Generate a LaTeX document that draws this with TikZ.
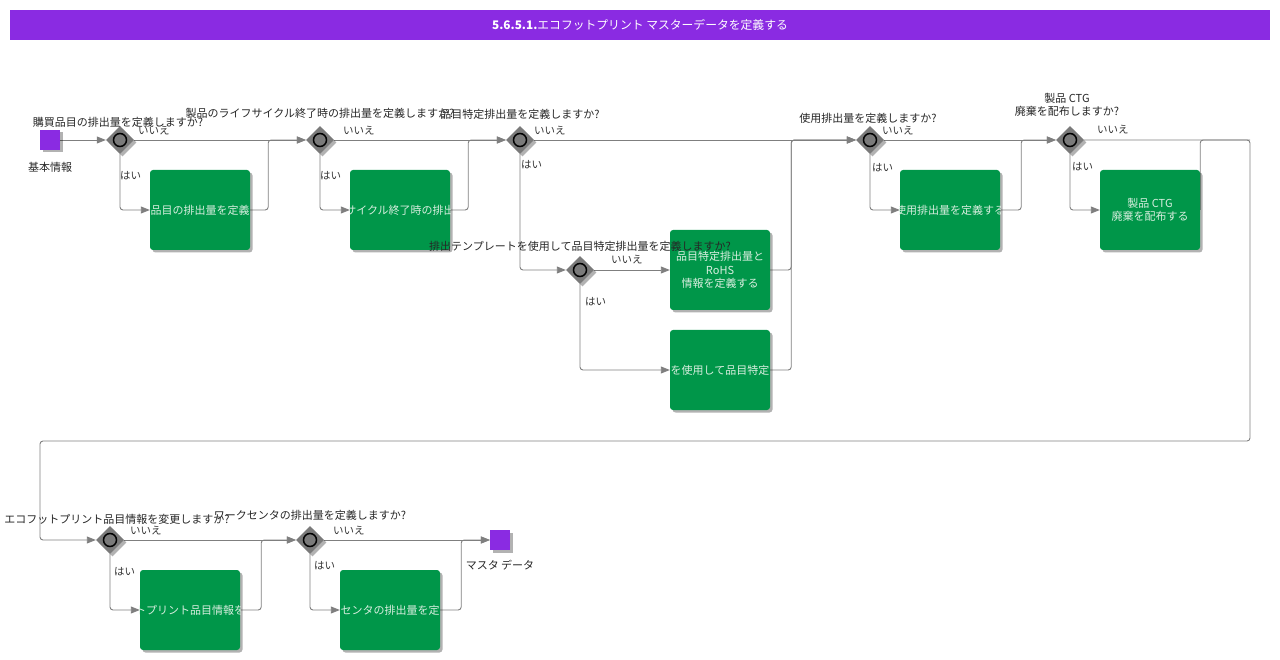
\documentclass[tikz,border=0pt]{standalone}
\usepackage{fontspec}
\setmainfont{Noto Sans CJK JP}
\usetikzlibrary{shapes.geometric,shadows,arrows.meta,backgrounds}
\definecolor{vio}{HTML}{8A2BE2}
\definecolor{grn}{HTML}{009649}
\definecolor{ln}{HTML}{7F7F7F}
\definecolor{gw}{HTML}{7A7A7A}
\definecolor{boxtxt}{HTML}{D8EEDF}
\tikzset{
  flow/.style={draw=ln, line width=0.9pt, rounded corners=3pt, -{Triangle[length=9pt,width=7pt]}},
  plain/.style={draw=ln, line width=0.9pt, rounded corners=3pt},
  shd/.style={drop shadow={shadow xshift=2.5pt, shadow yshift=-2.5pt, opacity=0.3, fill=black}},
  gate/.style={diamond, fill=gw, minimum width=28pt, minimum height=28pt, inner sep=0pt, shd},
  ring/.style={draw=black, line width=1.5pt, fill=gw},
  task/.style={rectangle, rounded corners=3pt, fill=grn, minimum width=100pt, minimum height=80pt,
    inner sep=0pt, shd},
  tasktext/.style={inner sep=0pt, text=boxtxt, font=\fontsize{11}{13.5}\selectfont, align=center},
  term/.style={rectangle, fill=vio, minimum size=20pt, inner sep=0pt, shd},
  lbl/.style={font=\fontsize{11}{13}\selectfont, text=black!85, inner sep=0pt, align=center},
  ans/.style={font=\fontsize{10.5}{12}\selectfont, text=black!80, inner sep=0pt, anchor=west},
}
\newcommand{\tasklabel}[3]{%
  \begin{scope}
    \clip (#1.south west) rectangle (#1.north east);
    \node[tasktext] (#2) at (#1) {#3};
  \end{scope}}
\begin{document}
\begin{tikzpicture}[x=1pt,y=-1pt]
\useasboundingbox (0,0) rectangle (1280,660);
% title
\node[fill=vio, minimum width=1260pt, minimum height=30pt, inner sep=0pt, text=white,
  font=\fontsize{11.8}{14}\selectfont] (title) at (640,25) {\bfseries 5.6.5.1.\mdseries エコフットプリント マスターデータを定義する};
% start / end
\node[term] (s) at (50,140) {};
\node[lbl] (sl) at (50,167) {基本情報};
\node[term] (e) at (500,540) {};
\node[lbl] (el) at (500,565) {マスタ データ};
% gateways
\foreach \n/\x/\y in {g1/120/140, g2/320/140, g3/520/140, g4/580/270, g5/870/140, g6/1070/140, g7/110/540, g8/310/540}{
  \node[gate] (\n) at (\x,\y) {};
  \draw[ring] (\n) circle (6.5pt);
}
% tasks
\node[task] (t1) at (200,210) {};
\node[task] (t2) at (400,210) {};
\node[task] (t3) at (720,270) {};
\node[task] (t4) at (720,370) {};
\node[task] (t5) at (950,210) {};
\node[task] (t6) at (1150,210) {};
\node[task] (t7) at (190,610) {};
\node[task] (t8) at (390,610) {};
\tasklabel{t1}{x1}{品目の排出量を定義}
\tasklabel{t2}{x2}{サイクル終了時の排出}
\tasklabel{t3}{x3}{品目特定排出量と\\RoHS\\情報を定義する}
\tasklabel{t4}{x4}{を使用して品目特定}
\tasklabel{t5}{x5}{使用排出量を定義する}
\tasklabel{t6}{x6}{製品 CTG\\廃棄を配布する}
\tasklabel{t7}{x7}{トプリント品目情報を}
\tasklabel{t8}{x8}{センタの排出量を定}
% questions
\node[lbl] (q1) at (118,122) {購買品目の排出量を定義しますか?};
\node[lbl] (q2) at (320,113) {製品のライフサイクル終了時の排出量を定義しますか?};
\node[lbl] (q3) at (520,114) {品目特定排出量を定義しますか?};
\node[lbl] (q4) at (580,246) {排出テンプレートを使用して品目特定排出量を定義しますか?};
\node[lbl] (q5) at (868,118) {使用排出量を定義しますか?};
\node[lbl] (q6) at (1067,105) {製品 CTG\\廃棄を配布しますか?};
\node[lbl] (q7) at (117,519) {エコフットプリント品目情報を変更しますか?};
\node[lbl] (q8) at (310,515) {ワークセンタの排出量を定義しますか?};
% answers
\node[ans] (n1) at (138,131) {いいえ};
\node[ans] (y1) at (120,176) {はい};
\node[ans] (n2) at (343,131) {いいえ};
\node[ans] (y2) at (320,176) {はい};
\node[ans] (n3) at (534,131) {いいえ};
\node[ans] (y3) at (521,165) {はい};
\node[ans] (n4) at (611,260) {いいえ};
\node[ans] (y4) at (585,302) {はい};
\node[ans] (n5) at (882,131) {いいえ};
\node[ans] (y5) at (872,168) {はい};
\node[ans] (n6) at (1097,130) {いいえ};
\node[ans] (y6) at (1072,167) {はい};
\node[ans] (n7) at (130,531) {いいえ};
\node[ans] (y7) at (114,572) {はい};
\node[ans] (n8) at (333,531) {いいえ};
\node[ans] (y8) at (314,566) {はい};
% loop corners
\coordinate (r1) at (1250,140);
\coordinate (r2) at (1250,441);
\coordinate (r3) at (40,441);
\begin{scope}[on background layer]
\draw[flow] (s) -- (g1);
\draw[flow] (g1) -- (g2);
\draw[flow] (g1.south) |- (t1.west);
\draw[flow] (t1.east) -- ++(18,0) |- (g2.west);
\draw[flow] (g2) -- (g3);
\draw[flow] (g2.south) |- (t2.west);
\draw[flow] (t2.east) -- ++(18,0) |- (g3.west);
\draw[flow] (g3) -- (g5);
\draw[flow] (g3.south) |- (g4.west);
\draw[flow] (g4) -- (t3);
\draw[flow] (g4.south) |- (t4.west);
\draw[flow] (t3.east) -- ++(21,0) |- (g5.west);
\draw[flow] (t4.east) -- ++(21,0) |- (g5.west);
\draw[flow] (g5) -- (g6);
\draw[flow] (g5.south) |- (t5.west);
\draw[flow] (t5.east) -- ++(21,0) |- (g6.west);
\draw[flow] (g6.south) |- (t6.west);
\draw[plain] (t6.east) |- (r1);
\draw[flow] (g6.east) -- (r1) -- (r2) -- (r3) |- (g7.west);
\draw[flow] (g7) -- (g8);
\draw[flow] (g7.south) |- (t7.west);
\draw[flow] (t7.east) -- ++(21,0) |- (g8.west);
\draw[flow] (g8) -- (e);
\draw[flow] (g8.south) |- (t8.west);
\draw[flow] (t8.east) -- ++(21,0) |- (e.west);
\end{scope}
\end{tikzpicture}
\end{document}
